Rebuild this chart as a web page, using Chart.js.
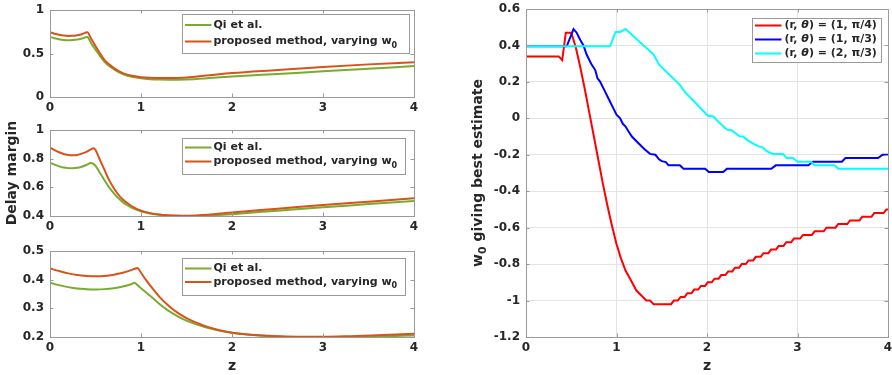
<!DOCTYPE html>
<html>
<head>
<meta charset="utf-8">
<script src="https://cdn.jsdelivr.net/npm/chart.js@4.4.1/dist/chart.umd.min.js"></script>
<style>
  html, body { margin: 0; padding: 0; background: #ffffff; }
  #wrap { position: relative; width: 892px; height: 375px; overflow: hidden; background: #ffffff; }
  #wrap canvas { position: absolute; left: 0; top: 0; }
</style>
</head>
<body>
<div id="wrap">
  <canvas id="cTop" width="892" height="375"></canvas>
  <canvas id="cMid" width="892" height="375"></canvas>
  <canvas id="cBot" width="892" height="375"></canvas>
  <canvas id="cRight" width="892" height="375"></canvas>
</div>
<script>
// ---------- delay margin vs z (left column, three operating points) ----------
const topZ = [0, 0.05, 0.1, 0.15, 0.2, 0.25, 0.3, 0.35, 0.41, 0.45, 0.5, 0.55, 0.6, 0.65, 0.7, 0.75, 0.8, 0.85, 0.9, 1.0, 1.1, 1.2, 1.3, 1.5, 1.75, 2.0, 2.5, 3.0, 3.5, 4.0];
const topQi = [0.69, 0.675, 0.663, 0.655, 0.652, 0.654, 0.66, 0.672, 0.69, 0.62, 0.545, 0.47, 0.405, 0.358, 0.32, 0.288, 0.263, 0.245, 0.232, 0.215, 0.205, 0.2, 0.199, 0.202, 0.217, 0.235, 0.265, 0.295, 0.325, 0.355];
const topProposed = [0.745, 0.728, 0.715, 0.706, 0.702, 0.703, 0.71, 0.722, 0.745, 0.675, 0.585, 0.5, 0.425, 0.375, 0.335, 0.3, 0.275, 0.257, 0.245, 0.228, 0.22, 0.217, 0.218, 0.225, 0.25, 0.275, 0.31, 0.345, 0.375, 0.4];

const midZ = [0, 0.05, 0.1, 0.15, 0.2, 0.25, 0.3, 0.35, 0.4, 0.45, 0.48, 0.5, 0.55, 0.6, 0.65, 0.7, 0.75, 0.8, 0.85, 0.9, 1.0, 1.1, 1.2, 1.3, 1.45, 1.6, 1.8, 2.0, 2.5, 3.0, 3.5, 4.0];
const midQi = [0.772, 0.758, 0.746, 0.738, 0.734, 0.733, 0.736, 0.744, 0.756, 0.77, 0.762, 0.75, 0.7, 0.648, 0.6, 0.56, 0.525, 0.497, 0.475, 0.457, 0.433, 0.418, 0.408, 0.402, 0.398, 0.399, 0.405, 0.413, 0.437, 0.461, 0.483, 0.505];
const midProposed = [0.877, 0.86, 0.845, 0.833, 0.826, 0.823, 0.826, 0.835, 0.848, 0.865, 0.873, 0.86, 0.79, 0.72, 0.65, 0.595, 0.55, 0.515, 0.49, 0.468, 0.437, 0.42, 0.41, 0.405, 0.402, 0.404, 0.413, 0.425, 0.45, 0.477, 0.5, 0.523];

const botZ = [0, 0.1, 0.2, 0.3, 0.4, 0.5, 0.6, 0.7, 0.8, 0.9, 0.93, 0.96, 1.0, 1.05, 1.1, 1.2, 1.3, 1.4, 1.5, 1.6, 1.7, 1.8, 1.9, 2.0, 2.2, 2.4, 2.6, 2.8, 3.0, 3.3, 3.6, 4.0];
const botQi = [0.389, 0.381, 0.374, 0.369, 0.367, 0.366, 0.367, 0.37, 0.376, 0.385, 0.389, 0.381, 0.37, 0.357, 0.344, 0.316, 0.292, 0.273, 0.257, 0.245, 0.235, 0.227, 0.22, 0.215, 0.208, 0.203, 0.2, 0.199, 0.199, 0.2, 0.202, 0.205];
const botProposed = [0.439, 0.43, 0.422, 0.416, 0.413, 0.412, 0.413, 0.417, 0.424, 0.434, 0.438, 0.441, 0.424, 0.401, 0.38, 0.341, 0.31, 0.285, 0.266, 0.251, 0.239, 0.229, 0.221, 0.215, 0.208, 0.204, 0.202, 0.201, 0.201, 0.203, 0.206, 0.211];

const leftLabels = ['Qi et al.', 'proposed method, varying w₀'];

// ---------- w0 giving best estimate vs z (right panel) ----------
const redZ = [0, 0.36, 0.40, 0.44, 0.50, 0.55, 0.60, 0.65, 0.70, 0.75, 0.80, 0.85, 0.90, 0.95, 1.00, 1.05, 1.10, 1.15, 1.22, 1.28, 1.33, 1.37, 1.41,
  1.603, 1.633, 1.678, 1.708, 1.753, 1.783, 1.828, 1.858, 1.903, 1.933, 1.978, 2.008, 2.053, 2.083, 2.128, 2.158, 2.204, 2.234, 2.279, 2.309,
  2.354, 2.384, 2.429, 2.459, 2.51, 2.54, 2.594, 2.624, 2.678, 2.708, 2.762, 2.792, 2.846, 2.876, 2.93, 2.96, 3.03, 3.06, 3.16, 3.19, 3.29,
  3.32, 3.42, 3.45, 3.55, 3.58, 3.685, 3.715, 3.818, 3.848, 3.952, 3.982, 4.0];
const redW = [0.34, 0.34, 0.32, 0.47, 0.47, 0.39, 0.28, 0.16, 0.03, -0.1, -0.23, -0.36, -0.48, -0.59, -0.69, -0.77, -0.835, -0.88, -0.945, -0.975, -1.0, -1.0, -1.02,
  -1.02, -1.0, -1.0, -0.98, -0.98, -0.96, -0.96, -0.94, -0.94, -0.92, -0.92, -0.9, -0.9, -0.88, -0.88, -0.86, -0.86, -0.84, -0.84, -0.82,
  -0.82, -0.8, -0.8, -0.78, -0.78, -0.76, -0.76, -0.74, -0.74, -0.72, -0.72, -0.7, -0.7, -0.68, -0.68, -0.66, -0.66, -0.64, -0.64, -0.62, -0.62,
  -0.6, -0.6, -0.58, -0.58, -0.56, -0.56, -0.54, -0.54, -0.52, -0.52, -0.5, -0.5];

const blueZ = [0, 0.45, 0.525, 0.56, 0.6, 0.635, 0.67, 0.69, 0.72, 0.765, 0.79, 0.82, 0.86, 0.91, 0.96, 1.0, 1.04, 1.07, 1.1, 1.13, 1.17, 1.21, 1.26, 1.31, 1.37, 1.43,
  1.47, 1.5, 1.545, 1.575, 1.7, 1.74, 1.98, 2.02, 2.18, 2.22, 2.71, 2.76, 3.12, 3.17, 3.49, 3.53, 3.89, 3.94, 4.0];
const blueW = [0.395, 0.395, 0.49, 0.47, 0.43, 0.4, 0.35, 0.33, 0.3, 0.265, 0.22, 0.2, 0.16, 0.11, 0.06, 0.02, 0.0, -0.03, -0.045, -0.07, -0.1, -0.12, -0.145, -0.17, -0.195, -0.2,
  -0.225, -0.235, -0.24, -0.258, -0.258, -0.277, -0.277, -0.295, -0.295, -0.277, -0.277, -0.258, -0.258, -0.238, -0.238, -0.218, -0.218, -0.2, -0.2];

const cyanZ = [0, 0.93, 0.99, 1.04, 1.1, 1.41, 1.47, 1.7, 1.76, 2.01, 2.07, 2.14, 2.22, 2.27, 2.36, 2.4, 2.45, 2.51, 2.57, 2.61, 2.66, 2.73, 2.84, 2.88, 2.95, 3.0, 3.15, 3.19, 3.41, 3.45, 4.0];
const cyanW = [0.395, 0.395, 0.474, 0.474, 0.49, 0.35, 0.294, 0.184, 0.142, 0.014, 0.01, -0.026, -0.062, -0.065, -0.099, -0.1, -0.121, -0.139, -0.154, -0.158, -0.18, -0.196, -0.196, -0.218, -0.218, -0.238, -0.238, -0.258, -0.258, -0.277, -0.277];

const rightLabels = ['(r, θ) = (1, π/4)', '(r, θ) = (1, π/3)', '(r, θ) = (2, π/3)'];

// ---------- styling ----------
const FONT = "'DejaVu Sans', sans-serif";
const INK = '#262626';
const FRAME = '#9a9a9a';
const GRID = '#e3e3e3';
const GREEN = '#77AC30';
const ORANGE = '#D95319';

// text with a subscript zero and italic theta
function richSegments(text, size) {
  const segs = [];
  for (const ch of text) {
    const s = { t: ch, size: size, dy: 0, italic: false };
    if (ch === '₀') { s.t = '0'; s.size = Math.round(size * 0.75); s.dy = size * 0.38; }
    else if (ch === 'θ') { s.italic = true; }
    const last = segs[segs.length - 1];
    if (last && last.size === s.size && last.dy === s.dy && last.italic === s.italic) last.t += s.t;
    else segs.push(s);
  }
  return segs;
}
function fontOf(s) { return (s.italic ? 'italic ' : '') + 'bold ' + s.size + 'px ' + FONT; }
function drawRich(ctx, text, x, y, size, align) {
  const segs = richSegments(text, size);
  let w = 0;
  for (const s of segs) { ctx.font = fontOf(s); w += ctx.measureText(s.t).width; }
  let cx = align === 'center' ? x - w / 2 : x;
  ctx.textBaseline = 'middle';
  ctx.textAlign = 'left';
  ctx.fillStyle = INK;
  for (const s of segs) {
    ctx.font = fontOf(s);
    ctx.fillText(s.t, cx, y + s.dy);
    cx += ctx.measureText(s.t).width;
  }
}

// box, inward tick marks, boxed legend and axis titles
const matlabFrame = {
  id: 'matlabFrame',
  afterDraw(chart, args, opts) {
    const ctx = chart.ctx, a = chart.chartArea;
    const xs = chart.scales.x, ys = chart.scales.y;
    const tl = 3.5;
    ctx.save();
    ctx.strokeStyle = FRAME;
    ctx.lineWidth = 1;
    ctx.beginPath();
    xs.ticks.forEach(t => {
      const p = Math.round(xs.getPixelForValue(t.value)) + 0.5;
      ctx.moveTo(p, a.bottom); ctx.lineTo(p, a.bottom - tl);
      ctx.moveTo(p, a.top); ctx.lineTo(p, a.top + tl);
    });
    ys.ticks.forEach(t => {
      const p = Math.round(ys.getPixelForValue(t.value)) + 0.5;
      ctx.moveTo(a.left, p); ctx.lineTo(a.left + tl, p);
      ctx.moveTo(a.right, p); ctx.lineTo(a.right - tl, p);
    });
    ctx.stroke();
    ctx.strokeRect(Math.round(a.left) + 0.5, Math.round(a.top) + 0.5,
      Math.round(a.right - a.left), Math.round(a.bottom - a.top));

    const lg = opts.legend;
    if (lg) {
      const [x0, y0, x1, y1] = lg.box;
      ctx.fillStyle = '#ffffff';
      ctx.fillRect(x0, y0, x1 - x0, y1 - y0);
      ctx.strokeStyle = FRAME;
      ctx.strokeRect(x0 + 0.5, y0 + 0.5, x1 - x0, y1 - y0);
      chart.data.datasets.forEach((ds, i) => {
        const y = lg.rows[i];
        ctx.strokeStyle = ds.borderColor;
        ctx.lineWidth = 2;
        ctx.beginPath();
        ctx.moveTo(lg.line[0], y); ctx.lineTo(lg.line[1], y);
        ctx.stroke();
        drawRich(ctx, ds.label, lg.textX, y, lg.size, 'left');
      });
    }
    (opts.titles || []).forEach(t => {
      ctx.save();
      ctx.translate(t.x, t.y);
      if (t.rotate) ctx.rotate(-Math.PI / 2);
      drawRich(ctx, t.text, 0, 0, 14, 'center');
      ctx.restore();
    });
    ctx.restore();
  }
};

const fmt = v => String(Math.round(v * 100) / 100);
const pts = (z, v) => z.map((x, i) => ({ x: x, y: v[i] }));

function makeChart(id, area, yRange, datasets, frameOpts, gridOn, yWidth, interp) {
  const W = 892, H = 375, XH = 20;
  const tickFont = { family: FONT, size: 12, weight: 'bold' };
  datasets.forEach(d => {
    d.borderWidth = 2;
    d.pointRadius = 0;
    d.fill = false;
    if (interp) d.cubicInterpolationMode = 'monotone';
  });
  return new Chart(document.getElementById(id), {
    type: 'line',
    data: { datasets: datasets },
    options: {
      responsive: false,
      animation: false,
      devicePixelRatio: 1,
      layout: { padding: { left: area.left - yWidth, top: area.top, right: W - area.right, bottom: H - area.bottom - XH } },
      plugins: { legend: { display: false }, tooltip: { enabled: false }, matlabFrame: frameOpts },
      scales: {
        x: {
          type: 'linear', min: 0, max: 4,
          afterFit: s => { s.height = XH; s.paddingLeft = 0; s.paddingRight = 0; },
          ticks: { stepSize: 1, padding: 4, color: INK, font: tickFont, maxRotation: 0, autoSkip: false, callback: fmt },
          grid: { display: gridOn, color: GRID, drawTicks: false, lineWidth: 1 },
          border: { display: false }
        },
        y: {
          type: 'linear', min: yRange[0], max: yRange[1],
          afterFit: s => { s.width = yWidth; s.paddingTop = 0; s.paddingBottom = 0; },
          ticks: { stepSize: yRange[2], padding: 6, color: INK, font: tickFont, autoSkip: false, callback: fmt },
          grid: { display: gridOn, color: GRID, drawTicks: false, lineWidth: 1 },
          border: { display: false }
        }
      }
    },
    plugins: [matlabFrame]
  });
}

function leftSets(z, qi, prop) {
  return [
    { label: leftLabels[0], data: pts(z, qi), borderColor: GREEN, order: 1 },
    { label: leftLabels[1], data: pts(z, prop), borderColor: ORANGE, order: 0 }
  ];
}

makeChart('cTop', { left: 50, top: 10, right: 414, bottom: 97 }, [0, 1, 0.5],
  leftSets(topZ, topQi, topProposed),
  { legend: { box: [182, 14, 409, 53], rows: [25, 41.5], line: [185, 211.5], textX: 213.5, size: 11 } },
  false, 50, true);

makeChart('cMid', { left: 50, top: 130, right: 414, bottom: 216 }, [0.4, 1, 0.2],
  leftSets(midZ, midQi, midProposed),
  { legend: { box: [182, 138, 405, 174], rows: [147.5, 161.5], line: [185, 211.5], textX: 213.5, size: 11 },
    titles: [{ text: 'Delay margin', x: 12, y: 173, rotate: true }] },
  false, 50, true);

makeChart('cBot', { left: 50, top: 251, right: 414, bottom: 337 }, [0.2, 0.5, 0.1],
  leftSets(botZ, botQi, botProposed),
  { legend: { box: [182, 258, 405, 295], rows: [268.5, 282], line: [185, 211.5], textX: 213.5, size: 11 },
    titles: [{ text: 'z', x: 232, y: 366, rotate: false }] },
  false, 50, true);

makeChart('cRight', { left: 526, top: 9, right: 888, bottom: 337 }, [-1.2, 0.6, 0.2],
  [
    { label: rightLabels[0], data: pts(redZ, redW), borderColor: '#FF0000', order: 2 },
    { label: rightLabels[1], data: pts(blueZ, blueW), borderColor: '#0000FF', order: 1 },
    { label: rightLabels[2], data: pts(cyanZ, cyanW), borderColor: '#00FFFF', order: 0 }
  ],
  { legend: { box: [752, 18, 881, 62], rows: [25.5, 39.5, 53.5], line: [755, 781.5], textX: 784.5, size: 11 },
    titles: [{ text: 'w₀ giving best estimate', x: 478, y: 173, rotate: true },
             { text: 'z', x: 707, y: 366, rotate: false }] },
  true, 80, false);
</script>
</body>
</html>
